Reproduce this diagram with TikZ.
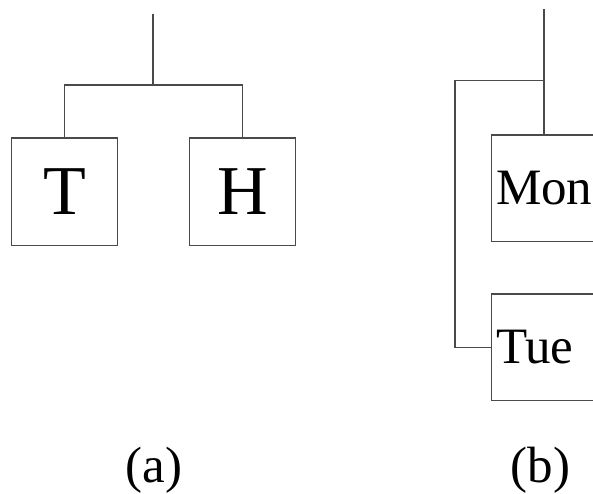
\documentclass[tikz,border=0pt]{standalone}
\usepackage{fontspec}
\setmainfont{Liberation Serif}
\definecolor{linegray}{HTML}{4A4A4A}
\begin{document}
\begin{tikzpicture}[x=1pt,y=-1pt,
  wire/.style={draw=linegray,line width=1.6pt},
  letterbox/.style={draw=linegray,line width=1.6pt,minimum width=106pt,minimum height=107pt,inner sep=0pt,font=\fontsize{70}{70}\selectfont},
  daybox/.style={draw=linegray,line width=1.6pt,minimum height=106.5pt,text width=124pt,align=left,inner xsep=4.5pt,inner ysep=0pt,font=\fontsize{51}{51}\selectfont,anchor=north west},
  caption/.style={anchor=base,inner sep=0pt,font=\fontsize{51}{51}\selectfont}]
\useasboundingbox (0,0) rectangle (593,494);
\clip (0,0) rectangle (593,494);

% (a): two leaves under one parent
\node[letterbox] (T) at (64.5,191.8) {T};
\node[letterbox] (H) at (242.5,191.8) {H};
\coordinate (rootA) at (153,14);
\coordinate (forkA) at (153,85);
\draw[wire] (rootA) -- (forkA);
\draw[wire] (T.north) |- (forkA) -| (H.north);
\node[caption] (capA) at (154,482.5) {(a)};

% (b): stacked day boxes
\node[daybox] (mon) at (490.7,134) {Mon};
\node[daybox] (tue) at (490.7,293.3) {Tue};
\coordinate (rootB) at (544,9);
\coordinate (forkB) at (544,80.5);
\coordinate (bendB) at (455,80.5);
\draw[wire] (rootB) -- (rootB |- mon.north);
\draw[wire] (forkB) -- (bendB) |- (tue.west);
\node[caption] (capB) at (540.5,482.5) {(b)};
\end{tikzpicture}
\end{document}
